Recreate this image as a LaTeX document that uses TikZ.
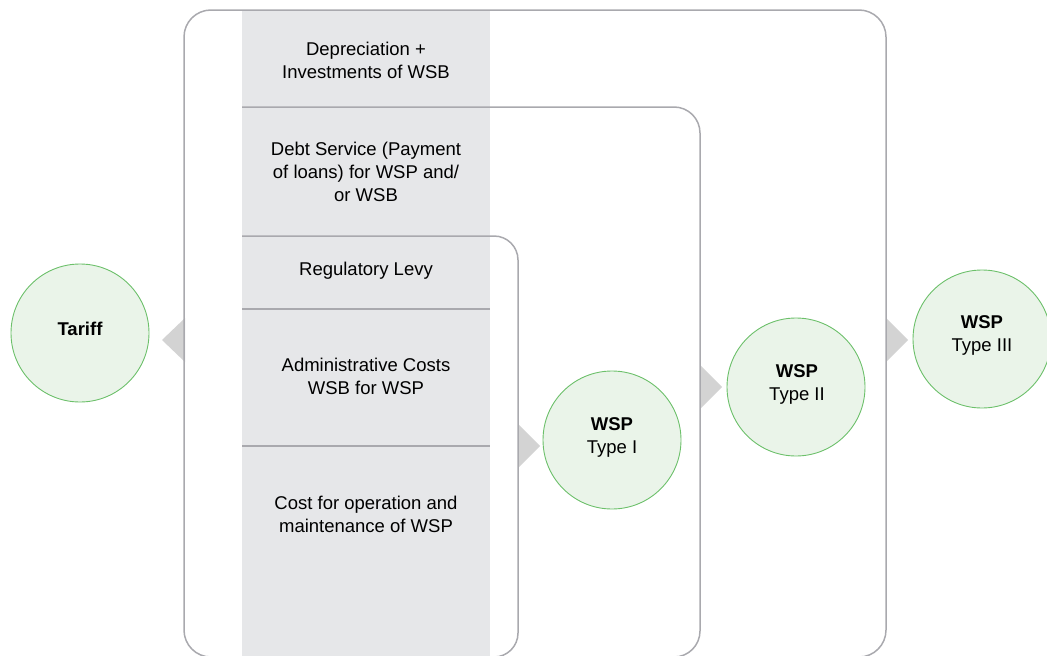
\documentclass[tikz,border=0pt]{standalone}
\usepackage{fontspec}
\setmainfont{Liberation Sans}
\definecolor{boxline}{HTML}{A9A9AE}
\definecolor{colfill}{HTML}{E6E7E9}
\definecolor{circfill}{HTML}{EAF4E9}
\definecolor{circline}{HTML}{6CC06A}
\definecolor{trifill}{HTML}{D3D3D3}
\begin{document}
\begin{tikzpicture}[x=1pt,y=-1pt,
  frameline/.style={draw=boxline, line width=1.5pt},
  sepline/.style={draw=boxline, line width=1.5pt},
  txt/.style={align=center, inner sep=0pt, font=\fontsize{18.5}{23}\selectfont, text=black},
  wspcircle/.style={circle, minimum size=138pt, inner sep=0pt, fill=circfill, draw=circline, line width=0.9pt},
  chevron/.style={fill=trifill}]
\useasboundingbox (0,0) rectangle (1047,656);
\clip (0,0) rectangle (1047,656);
% column of cost items
\fill[colfill] (242,10) rectangle (490,660);
% arrow triangles
\fill[chevron] (185,318) -- (162,340) -- (185,362) -- cycle;
\fill[chevron] (518,424) -- (540,446) -- (518,468) -- cycle;
\fill[chevron] (700,365) -- (722,387) -- (700,409) -- cycle;
\fill[chevron] (886,318) -- (908,340) -- (886,362) -- cycle;
% frames
\draw[frameline, rounded corners=27pt] (184,10) rectangle (886,657);
\draw[frameline, rounded corners=26pt] (242,107) -- (700,107) -- (700,657) -- (640,657);
\draw[frameline, rounded corners=24pt] (242,236) -- (518,236) -- (518,657) -- (470,657);
\draw[sepline] (242,309) -- (490,309);
\draw[sepline] (242,446) -- (490,446);
% texts in the column
\node[txt] (dep) at (366,60) {Depreciation +\\Investments of WSB};
\node[txt] (debt) at (366,172) {Debt Service (Payment\\of loans) for WSP and/\\or WSB};
\node[txt] (levy) at (366,271) {Regulatory Levy};
\node[txt] (admin) at (366,376) {Administrative Costs\\WSB for WSP};
\node[txt] (om) at (366,514) {Cost for operation and\\maintenance of WSP};
% circles
\node[wspcircle] (tariff) at (80,333) {};
\node[txt] (tarifft) at (80,329) {\bfseries Tariff};
\node[wspcircle] (wsp1) at (612,440) {};
\node[txt] (wsp1t) at (612,437) {\bfseries WSP\\Type I};
\node[wspcircle] (wsp2) at (796,387) {};
\node[txt] (wsp2t) at (797,384) {\bfseries WSP\\Type II};
\node[wspcircle] (wsp3) at (982,339) {};
\node[txt] (wsp3t) at (982,335) {\bfseries WSP\\Type III};
\end{tikzpicture}
\end{document}
